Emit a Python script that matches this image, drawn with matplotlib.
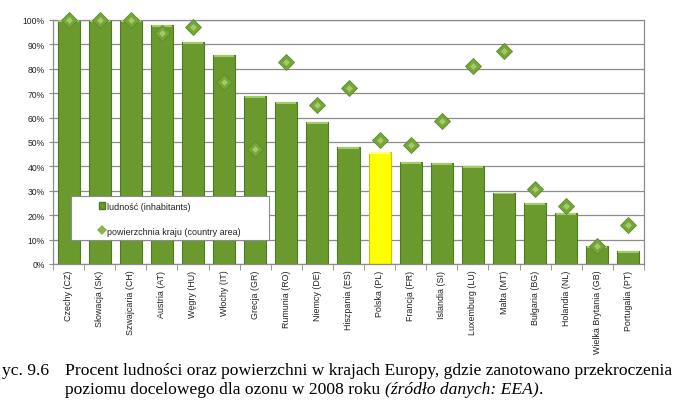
import numpy as np
import matplotlib.pyplot as plt
from matplotlib.patches import Rectangle

countries = ['Czechy (CZ)', 'Słowacja (SK)', 'Szwajcaria (CH)', 'Austria (AT)',
             'Węgry (HU)', 'Włochy (IT)', 'Grecja (GR)', 'Rumunia (RO)',
             'Niemcy (DE)', 'Hiszpania (ES)', 'Polska (PL)', 'Francja (FR)',
             'Islandia (SI)', 'Luxemburg (LU)', 'Malta (MT)', 'Bułgaria (BG)',
             'Holandia (NL)', 'Wielka Brytania (GB)', 'Portugalia (PT)']
inhabitants = [100, 100, 100, 98, 91, 85.5, 69, 66.4, 58, 47.8,
               46, 41.6, 41.3, 40.1, 29.3, 24.8, 20.9, 7.5, 5.5]
country_area = [100, 100, 100, 94.5, 97, 74.5, 47, 82.7, 65, 72,
                50.8, 48.6, 58.7, 81, 87.3, 30.9, 23.8, 7.5, 15.8]
highlight = 'Polska (PL)'


def main():
    plt.rcParams['font.family'] = ['Liberation Sans', 'DejaVu Sans']

    fig = plt.figure(figsize=(6.95, 4.06), dpi=100)
    ax = fig.add_axes([53 / 695, 1 - 265 / 406, 591 / 695, 244 / 406])

    x = np.arange(len(countries))
    vals = np.array(inhabitants) / 100
    area = np.array(country_area) / 100
    colors = ['#ffff00' if c == highlight else '#6a9a2e' for c in countries]
    edges = ['#c8c800' if c == highlight else '#4f7a20' for c in countries]

    ax.bar(x, vals, width=0.71, color=colors, edgecolor=edges, linewidth=0.8, zorder=2)
    # light top cap like the excel 3d style
    caps = ['#ffff80' if c == highlight else '#a6c96a' for c in countries]
    cap_h = 0.008
    ax.bar(x, cap_h, bottom=vals - cap_h, width=0.65, color=caps, linewidth=0, zorder=3)

    ax.plot(x, area, linestyle='none', marker='D', markersize=8,
            markerfacecolor='#76a638', markeredgecolor='#5c8a2a', markeredgewidth=0.6,
            clip_on=False, zorder=5)
    ax.plot(x, area, linestyle='none', marker='D', markersize=3.5,
            markerfacecolor='#a3ca68', markeredgewidth=0, clip_on=False, zorder=6)

    ax.set_xlim(-0.5, len(countries) - 0.5)
    ax.set_ylim(0, 1.0)
    ax.set_yticks(np.arange(0, 1.01, 0.1))
    ax.set_yticklabels(['%d%%' % v for v in range(0, 101, 10)], fontsize=6.2, color='#222222')
    ax.yaxis.grid(True, color='#8c8c8c', linewidth=0.9, zorder=0)
    ax.set_axisbelow(True)
    ax.tick_params(axis='y', length=3, color='#8c8c8c', pad=3)

    ax.set_xticks(x)
    ax.set_xticklabels(countries, rotation=90, fontsize=6.4, color='#222222')
    ax.tick_params(axis='x', length=0, pad=4)
    ax.set_xticks(np.arange(-0.5, len(countries), 1), minor=True)
    ax.tick_params(axis='x', which='minor', length=4, color='#8c8c8c')

    for s in ['left', 'bottom', 'right', 'top']:
        ax.spines[s].set_color('#8c8c8c')
        ax.spines[s].set_linewidth(0.9)

    # legend box
    box = Rectangle((0.03, 0.10), 0.336, 0.28 - 0.10, transform=ax.transAxes,
                    facecolor='white', edgecolor='#8c8c8c', linewidth=0.8, zorder=7)
    ax.add_patch(box)
    h1 = plt.Rectangle((0, 0), 1, 1, facecolor='#6a9a2e', edgecolor='#4f7a20')
    h2 = plt.Line2D([], [], linestyle='none', marker='D', markersize=5,
                    markerfacecolor='#8ab54e', markeredgewidth=0)
    leg = ax.legend([h1, h2], ['ludność (inhabitants)', 'powierzchnia kraju (country area)'],
                    loc='upper left', bbox_to_anchor=(0.077, 0.255), frameon=False,
                    fontsize=6.5, handlelength=0.7, handleheight=0.7, handletextpad=0.2,
                    labelspacing=1.75, borderaxespad=0, borderpad=0)
    leg.set_zorder(8)
    for t in leg.get_texts():
        t.set_color('#222222')

    cap_font = ['Liberation Serif', 'DejaVu Serif']
    cap_size = 12.6
    fig.text(2 / 695, 1 - 371 / 406, 'yc. 9.6', fontsize=cap_size, family=cap_font, va='center')
    fig.text(65 / 695, 1 - 371 / 406,
             'Procent ludności oraz powierzchni w krajach Europy, gdzie zanotowano przekroczenia',
             fontsize=cap_size, family=cap_font, va='center')
    t2 = fig.text(65 / 695, 1 - 390 / 406, 'poziomu docelowego dla ozonu w 2008 roku ',
                  fontsize=cap_size, family=cap_font, va='center')
    renderer = fig.canvas.get_renderer()
    bb = t2.get_window_extent(renderer=renderer)
    t3 = fig.text(bb.x1 / fig.bbox.width, 1 - 390 / 406, '(źródło danych: EEA)',
                  fontsize=cap_size, family=cap_font, style='italic', va='center')
    bb3 = t3.get_window_extent(renderer=renderer)
    fig.text(bb3.x1 / fig.bbox.width, 1 - 390 / 406, '.',
             fontsize=cap_size, family=cap_font, va='center')

    plt.savefig('out.png', dpi=100)


if __name__ == '__main__':
    main()
